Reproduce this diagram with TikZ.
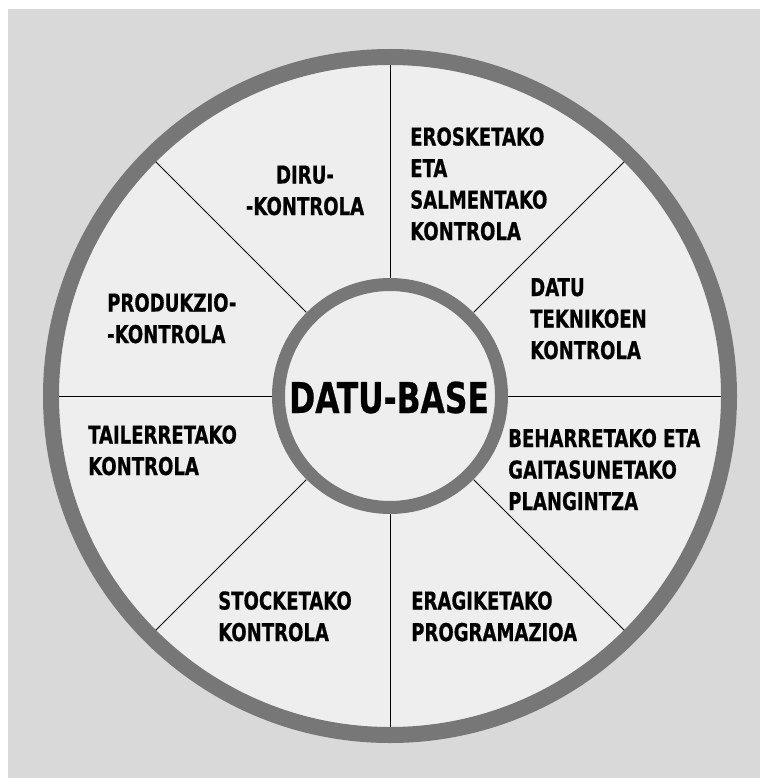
\documentclass[tikz,border=0pt]{standalone}
\usepackage{fontspec}
\newfontfamily\lblfont{DejaVu Sans Condensed Bold}[FakeStretch=0.82, FakeBold=0.6]
\definecolor{bggray}{HTML}{D9D9D9}
\definecolor{ringgray}{HTML}{777777}
\definecolor{innerfill}{HTML}{EEEEEE}
\tikzset{
  lbl/.style={anchor=base west, align=left, inner sep=0pt, font=\lblfont\fontsize{24.5}{31.5}\selectfont, text=black},
  spoke/.style={draw=black, line width=0.9pt},
}
\begin{document}
\begin{tikzpicture}[x=1pt,y=-1pt]
\useasboundingbox (0,0) rectangle (760,778);
\fill[white] (0,0) rectangle (760,778);
\fill[bggray] (8,9) rectangle (760,778);
% outer wheel
\draw[line width=16pt, draw=ringgray, fill=innerfill] (390,396) circle (339pt);
\node[circle, minimum size=662pt, inner sep=0pt, draw=none] (rim) at (390,396) {};
% hub
\node[circle, minimum size=236pt, inner sep=0pt, draw=none] (hub) at (390,396) {};
\foreach \a in {0,45,90,135,180,225,270,315}{
  \draw[spoke] (hub.\a) -- (rim.\a);
}
\draw[line width=13pt, draw=ringgray, fill=innerfill] (390,396) circle (111.5pt);
\node[inner sep=0pt, font=\lblfont\fontsize{42.5}{50}\selectfont, anchor=base] (db) at (389,413) {DATU-BASE};
% labels (anchored at the baseline of the last line)
\node[lbl, anchor=base, align=center] (diru) at (305,215) {DIRU-\\-KONTROLA};
\node[lbl] (eros) at (410,240) {EROSKETAKO\\ETA\\SALMENTAKO\\KONTROLA};
\node[lbl] (datu) at (530,359) {DATU\\TEKNIKOEN\\KONTROLA};
\node[lbl] (behar) at (508,510) {BEHARRETAKO ETA\\GAITASUNETAKO\\PLANGINTZA};
\node[lbl] (erag) at (411,641) {ERAGIKETAKO\\PROGRAMAZIOA};
\node[lbl] (stock) at (218,641) {STOCKETAKO\\KONTROLA};
\node[lbl] (tail) at (88,475) {TAILERRETAKO\\KONTROLA};
\node[lbl] (prod) at (107,343) {PRODUKZIO-\\-KONTROLA};
\end{tikzpicture}
\end{document}
